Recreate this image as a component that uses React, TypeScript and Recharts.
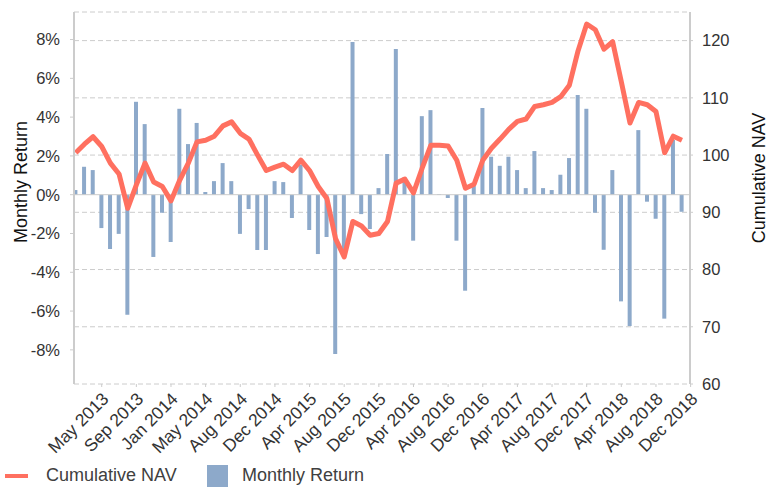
import React from 'react';
import { ComposedChart, Bar, Line, XAxis, YAxis, CartesianGrid, ReferenceLine, Legend } from 'recharts';

// month of each point (Jan 2013 .. Nov 2018)
const months = [
  'Jan 2013', 'Feb 2013', 'Mar 2013', 'Apr 2013', 'May 2013', 'Jun 2013', 'Jul 2013', 'Aug 2013', 'Sep 2013', 'Oct 2013', 'Nov 2013', 'Dec 2013',
  'Jan 2014', 'Feb 2014', 'Mar 2014', 'Apr 2014', 'May 2014', 'Jun 2014', 'Jul 2014', 'Aug 2014', 'Sep 2014', 'Oct 2014', 'Nov 2014', 'Dec 2014',
  'Jan 2015', 'Feb 2015', 'Mar 2015', 'Apr 2015', 'May 2015', 'Jun 2015', 'Jul 2015', 'Aug 2015', 'Sep 2015', 'Oct 2015', 'Nov 2015', 'Dec 2015',
  'Jan 2016', 'Feb 2016', 'Mar 2016', 'Apr 2016', 'May 2016', 'Jun 2016', 'Jul 2016', 'Aug 2016', 'Sep 2016', 'Oct 2016', 'Nov 2016', 'Dec 2016',
  'Jan 2017', 'Feb 2017', 'Mar 2017', 'Apr 2017', 'May 2017', 'Jun 2017', 'Jul 2017', 'Aug 2017', 'Sep 2017', 'Oct 2017', 'Nov 2017', 'Dec 2017',
  'Jan 2018', 'Feb 2018', 'Mar 2018', 'Apr 2018', 'May 2018', 'Jun 2018', 'Jul 2018', 'Aug 2018', 'Sep 2018', 'Oct 2018', 'Nov 2018',
];

// monthly return, %
const monthlyReturn = [
  0.24, 1.44, 1.27, -1.72, -2.8, -2.02, -6.19, 4.79, 3.64, -3.21, -0.93, -2.44,
  4.43, 2.61, 3.7, 0.14, 0.7, 1.63, 0.7, -2.02, -0.74, -2.85, -2.85, 0.7,
  0.65, -1.2, 1.55, -1.82, -3.06, -2.18, -8.21, -3.2, 7.87, -1.0, -1.77, 0.34,
  2.1, 7.51, 0.9, -2.37, 4.05, 4.36, 0.03, -0.17, -2.37, -4.95, 0.45, 4.47,
  1.96, 1.49, 1.96, 1.27, 0.34, 2.25, 0.34, 0.24, 1.03, 1.89, 5.14, 4.43,
  -0.93, -2.84, 1.27, -5.5, -6.77, 3.33, -0.36, -1.24, -6.39, 2.82, -0.88,
];

// cumulative NAV
const cumulativeNav = [
  100.4, 101.9, 103.2, 101.5, 98.6, 96.7, 90.7, 94.8, 98.6, 95.3, 94.5, 92.0,
  95.6, 98.6, 102.3, 102.6, 103.3, 105.1, 105.8, 103.8, 102.8, 100.0, 97.3, 97.9,
  98.4, 97.3, 99.1, 97.3, 94.5, 92.4, 85.4, 82.2, 88.4, 87.6, 86.0, 86.3,
  88.4, 95.1, 95.8, 93.4, 97.7, 101.7, 101.7, 101.6, 99.1, 94.2, 94.9, 99.1,
  101.2, 102.8, 104.5, 105.9, 106.3, 108.5, 108.8, 109.2, 110.2, 112.2, 118.2, 122.9,
  121.9, 118.5, 119.8, 112.8, 105.6, 109.2, 108.8, 107.6, 100.4, 103.3, 102.6,
];

// x ticks sit on the boundary after every 4th month
const xTicks = [3, 7, 11, 15, 19, 23, 27, 31, 35, 39, 43, 47, 51, 55, 59, 63, 67, 71];
const xTickLabels = [
  'May 2013', 'Sep 2013', 'Jan 2014', 'May 2014', 'Aug 2014', 'Dec 2014', 'Apr 2015', 'Aug 2015', 'Dec 2015',
  'Apr 2016', 'Aug 2016', 'Dec 2016', 'Apr 2017', 'Aug 2017', 'Dec 2017', 'Apr 2018', 'Aug 2018', 'Dec 2018',
];
const returnTicks = [-8, -6, -4, -2, 0, 2, 4, 6, 8];
const navTicks = [60, 70, 80, 90, 100, 110, 120];

const data = months.map((m, i) => ({
  i,
  month: m,
  ret: monthlyReturn[i],
  nav: cumulativeNav[i],
}));

const FONT = '"Liberation Sans", Arial, sans-serif';
const BAR_COLOR = '#8DA9CA';
const LINE_COLOR = '#FF7060';
const AXIS_COLOR = '#CCCCCC';

const XTick = ({ x, y, payload }: any) => {
  const idx = xTicks.indexOf(payload.value);
  return (
    <g transform={`translate(${x + 8},${y + 13})`}>
      <text textAnchor="end" transform="rotate(-45)" fill="#333" fontSize={17.5} fontFamily={FONT}>
        {xTickLabels[idx]}
      </text>
    </g>
  );
};

const LegendContent = () => (
  <div style={{ position: 'relative', height: 24, fontFamily: FONT, fontSize: 18, color: '#404040' }}>
    <div style={{ position: 'absolute', left: 5, top: 11, width: 23, height: 4, background: LINE_COLOR }} />
    <div style={{ position: 'absolute', left: 46, top: 0, lineHeight: '24px', whiteSpace: 'nowrap' }}>Cumulative NAV</div>
    <div style={{ position: 'absolute', left: 207, top: 2, width: 21, height: 22, background: BAR_COLOR }} />
    <div style={{ position: 'absolute', left: 242, top: 0, lineHeight: '24px', whiteSpace: 'nowrap' }}>Monthly Return</div>
  </div>
);

const axisTitle = (text: string, cx: number, cy: number) => () => (
  <text
    x={cx}
    y={cy}
    transform={`rotate(-90, ${cx}, ${cy})`}
    textAnchor="middle"
    dominantBaseline="central"
    fontSize={18}
    fontFamily={FONT}
    fill="#111"
  >
    {text}
  </text>
);

export default function App() {
  return (
    <div style={{ position: 'absolute', left: 0, top: 0, background: '#fff' }}>
      <ComposedChart width={769} height={487} data={data} margin={{ top: 12, right: 0, bottom: 0, left: 0 }}>
        <CartesianGrid yAxisId="nav" vertical={false} stroke={AXIS_COLOR} strokeDasharray="5 3" />
        <XAxis
          dataKey="i"
          type="number"
          domain={[-0.2, 70.93]}
          allowDataOverflow
          ticks={xTicks}
          interval={0}
          height={79}
          axisLine={false}
          tickLine={{ stroke: AXIS_COLOR }}
          tickSize={3}
          tickMargin={0}
          tick={<XTick />}
        />
        <YAxis
          yAxisId="ret"
          orientation="left"
          width={74}
          domain={[-9.76, 9.42]}
          ticks={returnTicks}
          tickFormatter={(v: number) => `${v}%`}
          axisLine={{ stroke: AXIS_COLOR, strokeWidth: 2 }}
          tickLine={{ stroke: AXIS_COLOR }}
          tickSize={4}
          tickMargin={10}
          tick={{ fill: '#333', fontSize: 16.5, fontFamily: FONT }}
          label={{ content: axisTitle('Monthly Return', 21, 182) }}
        />
        <YAxis
          yAxisId="nav"
          orientation="right"
          width={79}
          domain={[60, 125]}
          ticks={navTicks}
          axisLine={{ stroke: AXIS_COLOR, strokeWidth: 2 }}
          tickLine={{ stroke: AXIS_COLOR }}
          tickSize={3}
          tickMargin={9}
          tick={{ fill: '#333', fontSize: 16.5, fontFamily: FONT }}
          label={{ content: axisTitle('Cumulative NAV', 759, 178) }}
        />
        <ReferenceLine yAxisId="ret" y={0} stroke={AXIS_COLOR} strokeWidth={1} />
        <Legend verticalAlign="bottom" content={<LegendContent />} wrapperStyle={{ left: 0, bottom: 0, width: 769 }} />
        <Bar yAxisId="ret" dataKey="ret" name="Monthly Return" fill={BAR_COLOR} barSize={4} isAnimationActive={false} />
        <Line
          yAxisId="nav"
          dataKey="nav"
          name="Cumulative NAV"
          type="linear"
          stroke={LINE_COLOR}
          strokeWidth={5}
          strokeLinejoin="round"
          dot={false}
          activeDot={false}
          isAnimationActive={false}
        />
      </ComposedChart>
    </div>
  );
}
